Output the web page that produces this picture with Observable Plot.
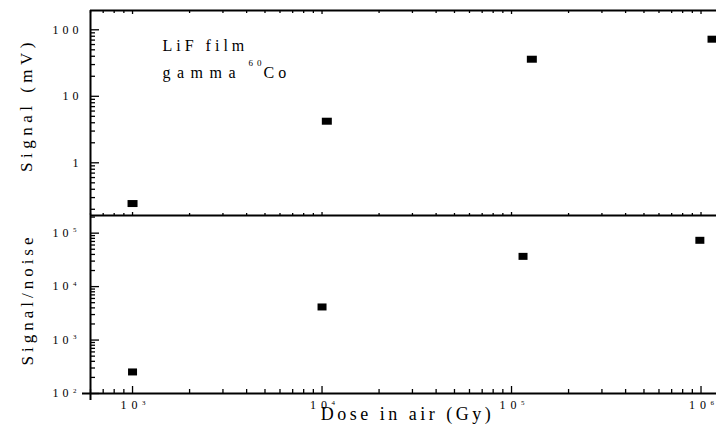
<!DOCTYPE html>
<html>
<head>
<meta charset="utf-8">
<script src="https://cdn.jsdelivr.net/npm/d3@7"></script>
<script src="https://cdn.jsdelivr.net/npm/@observablehq/plot@0.6"></script>
<style>
  body { margin: 0; background: #fff; }
  #chart { position: relative; width: 716px; height: 432px; overflow: hidden; }
  #chart svg { position: absolute; left: 0; }
</style>
</head>
<body>
<div id="chart"></div>
<script>
// ---- data ----
const doseTop = [1000, 10600, 128000, 1150000];      // Gy
const signalMV = [0.244, 4.22, 36.1, 72.2];          // mV
const doseBottom = [1000, 10000, 115000, 986000];    // Gy
const signalNoise = [253, 4160, 36800, 73500];

const xMajor = [1e3, 1e4, 1e5, 1e6];
const xExponents = ["3", "4", "5", "6"];
const yTopMajor = [1, 10, 100];
const yTopLabels = ["1", "10", "100"];
const yBottomMajor = [1e2, 1e3, 1e4, 1e5];
const yBottomExponents = ["2", "3", "4", "5"];

const xTitle = "Dose in air (Gy)";
const yTopTitle = "Signal (mV)";
const yBottomTitle = "Signal/noise";
const noteLine1 = "LiF film";
const noteLine2 = "gamma";
const noteIsotopeMass = "60";
const noteIsotopeSymbol = "Co";

// ---- scales ----
const xDomain = [600, 1.207e6];
const yTopDomain = [0.1613, 195];
const yBottomDomain = [100, 2.14e5];

const topData = doseTop.map((d, i) => ({dose: d, value: signalMV[i]}));
const bottomData = doseBottom.map((d, i) => ({dose: d, value: signalNoise[i]}));

function minorTicks([a, b]) {
  const out = [];
  for (let e = Math.floor(Math.log10(a)); e <= Math.ceil(Math.log10(b)); e++)
    for (let m = 2; m <= 9; m++) { const v = m * 10 ** e; if (v >= a && v <= b) out.push(v); }
  return out;
}
const rectSymbol = (w, h) => ({draw(ctx) { ctx.rect(-w / 2, -h / 2, w, h); }});

const FONT = '"Liberation Serif", "Times New Roman", serif';
const baseStyle = {fontFamily: FONT, fontSize: "12px", letterSpacing: "4px", background: "transparent", overflow: "visible", color: "#000"};

const yTicks = (vals, size) => Plot.axisY(vals, {anchor: "left", tickSize: size, dx: size, fill: "none", label: null, strokeWidth: 1.3});
const xTicksBottom = (vals, size) => Plot.axisX(vals, {anchor: "bottom", tickSize: size, dy: -size, fill: "none", label: null, strokeWidth: 1.3});
const xTicksTop = (vals, size) => Plot.axisX(vals, {anchor: "top", tickSize: size, dy: size, fill: "none", label: null, strokeWidth: 1.3});

const xMinor = minorTicks(xDomain);
const yTopMinor = minorTicks(yTopDomain);
const yBottomMinor = minorTicks(yBottomDomain);

const midText = {textAnchor: "middle", lineAnchor: "middle"};
const noteText = {frameAnchor: "top-left", textAnchor: "start", lineAnchor: "middle"};

// ---- top panel ----
const topPlot = Plot.plot({
  width: 716, height: 217,
  marginTop: 10, marginBottom: 2, marginLeft: 90, marginRight: 0,
  style: baseStyle,
  x: {type: "log", domain: xDomain, axis: null},
  y: {type: "log", domain: yTopDomain, axis: null},
  marks: [
    yTicks(yTopMajor, 9),
    yTicks(yTopMinor, 5),
    xTicksTop(xMajor, 3),
    xTicksTop(xMinor, 2),
    Plot.axisX(xMajor, {anchor: "bottom", tickSize: 3, dy: -3, fill: "none", label: null, strokeWidth: 1.3}),
    Plot.axisX(xMinor, {anchor: "bottom", tickSize: 2, dy: -2, fill: "none", label: null, strokeWidth: 1.3}),
    Plot.axisY(yTopMajor, {anchor: "left", tickSize: 0, tickPadding: 8, tickFormat: d => yTopLabels[yTopMajor.indexOf(d)], label: null, fontSize: 12}),
    Plot.ruleY([yTopDomain[1]], {strokeWidth: 2}),
    Plot.ruleY([yTopDomain[0]], {strokeWidth: 2}),
    Plot.ruleX([xDomain[0]], {strokeWidth: 2}),
    Plot.dot(topData, {x: "dose", y: "value", symbol: rectSymbol(10, 7), fill: "#000", stroke: "none", r: 5}),
    Plot.text([yTopTitle], {text: d => d, frameAnchor: "left", ...midText, rotate: -90, dx: -64, dy: -8, fontSize: 17}),
    Plot.text([noteLine1], {text: d => d, ...noteText, dx: 72, dy: 35, fontSize: 16}),
    Plot.text([noteLine2], {text: d => d, ...noteText, dx: 72, dy: 62, fontSize: 16}),
    Plot.text([noteIsotopeMass], {text: d => d, ...noteText, dx: 158, dy: 53, fontSize: 9}),
    Plot.text([noteIsotopeSymbol], {text: d => d, ...noteText, dx: 173, dy: 62, fontSize: 16})
  ]
});

// ---- bottom panel ----
const bottomPlot = Plot.plot({
  width: 716, height: 217,
  marginTop: 0, marginBottom: 39, marginLeft: 90, marginRight: 0,
  style: baseStyle,
  x: {type: "log", domain: xDomain, axis: null},
  y: {type: "log", domain: yBottomDomain, axis: null},
  marks: [
    yTicks(yBottomMajor, 9),
    yTicks(yBottomMinor, 5),
    xTicksBottom(xMajor, 7),
    xTicksBottom(xMinor, 4),
    Plot.axisY(yBottomMajor, {anchor: "left", tickSize: 0, tickPadding: 18, tickFormat: () => "10", label: null, fontSize: 12}),
    Plot.text(yBottomMajor, {y: d => d, text: d => yBottomExponents[yBottomMajor.indexOf(d)], frameAnchor: "left", textAnchor: "start", lineAnchor: "middle", dx: -17.5, dy: -3, fontSize: 7}),
    Plot.axisX(xMajor, {anchor: "bottom", tickSize: 0, tickPadding: 7, tickFormat: () => "10", label: null, fontSize: 12, dx: -1}),
    Plot.text(xMajor, {x: d => d, text: d => xExponents[xMajor.indexOf(d)], frameAnchor: "bottom", textAnchor: "start", lineAnchor: "middle", dx: 9.5, dy: 9, fontSize: 7}),
    Plot.ruleY([yBottomDomain[0]], {strokeWidth: 2, insetLeft: -8}),
    Plot.ruleX([xDomain[0]], {strokeWidth: 2, insetBottom: -7}),
    Plot.dot(bottomData, {x: "dose", y: "value", symbol: rectSymbol(9, 7), fill: "#000", stroke: "none", r: 5}),
    Plot.text([yBottomTitle], {text: d => d, frameAnchor: "left", ...midText, rotate: -90, dx: -63, dy: -5, fontSize: 17}),
    Plot.text([xTitle], {text: d => d, frameAnchor: "bottom", ...midText, dx: 4, dy: 21, fontSize: 18})
  ]
});

topPlot.style.top = "0px";
bottomPlot.style.top = "215px";
const chart = document.getElementById("chart");
chart.appendChild(topPlot);
chart.appendChild(bottomPlot);

// fine letter-spacing tweaks per label
const spacing = {[noteLine2]: "6.5px", [xTitle]: "3.5px", [yTopTitle]: "4.5px"};
d3.selectAll("#chart text").each(function() {
  const t = this.textContent;
  if (spacing[t]) this.style.letterSpacing = spacing[t];
});
d3.select(bottomPlot).selectAll('g[aria-label="x-axis tick label"] text').style("letter-spacing", "5px");
d3.selectAll('#chart g[font-size="7"] text').style("letter-spacing", "0px");
</script>
</body>
</html>
